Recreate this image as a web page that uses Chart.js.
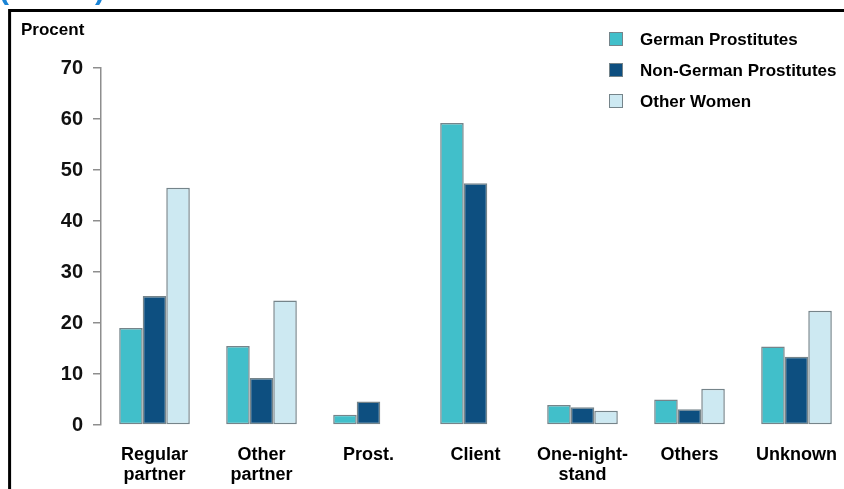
<!DOCTYPE html>
<html>
<head>
<meta charset="utf-8">
<script src="https://cdn.jsdelivr.net/npm/chart.js@4.4.1/dist/chart.umd.min.js"></script>
<style>
  html, body { margin: 0; padding: 0; background: #fff; overflow: hidden; }
  #wrap { position: relative; width: 860px; height: 489px; }
</style>
</head>
<body>
<div id="wrap"><canvas id="chart"></canvas></div>
<script>
// Source of infection by group, in percent
const categories = [["Regular", "partner"], ["Other", "partner"], "Prost.", "Client", ["One-night-", "stand"], "Others", "Unknown"];
const germanProstitutes = [19, 15.5, 2, 59.2, 3.9, 5, 15.4];
const nonGermanProstitutes = [25.3, 9.2, 4.6, 47.4, 3.5, 3.1, 13.4];
const otherWomen = [46.5, 24.4, null, null, 2.8, 7.1, 22.4];
const seriesNames = ["German Prostitutes", "Non-German Prostitutes", "Other Women"];
const yTicks = [0, 10, 20, 30, 40, 50, 60, 70];

const FONT = "'Liberation Sans', Arial, Helvetica, sans-serif";
const colors = ["#41bfca", "#0d4f80", "#cde9f2"];
const edge = "#75848a";

// Frame, headline sliver, axis caption and legend
const decorations = {
  id: "decorations",
  afterDraw(chart) {
    const ctx = chart.ctx;
    ctx.save();
    // outer frame
    ctx.strokeStyle = "#000";
    ctx.lineWidth = 3;
    ctx.strokeRect(9.6, 10.5, chart.width + 20, chart.height + 20);
    // headline, mostly above the visible area
    ctx.fillStyle = "#1a84d6";
    ctx.font = "bold 30px " + FONT;
    ctx.textBaseline = "alphabetic";
    ctx.textAlign = "left";
    ctx.fillText("(n=356)", -1, -1);
    // axis caption
    ctx.fillStyle = "#000";
    ctx.font = "bold 17px " + FONT;
    ctx.fillText("Procent", 21, 35);
    // legend
    const rows = [39, 70, 101];
    chart.data.datasets.forEach((ds, i) => {
      const cy = rows[i];
      ctx.fillStyle = ds.backgroundColor;
      ctx.fillRect(609, cy - 7, 14, 14);
      ctx.strokeStyle = edge;
      ctx.lineWidth = 1;
      ctx.strokeRect(609.5, cy - 6.5, 13, 13);
      ctx.fillStyle = "#000";
      ctx.font = "bold 17px " + FONT;
      ctx.textBaseline = "middle";
      ctx.fillText(ds.label, 640, cy + 1);
    });
    ctx.restore();
  }
};

const makeSet = (label, data, color) => ({
  label, data,
  backgroundColor: color,
  borderColor: edge,
  borderWidth: 1.5,
  borderSkipped: false,
  categoryPercentage: 0.66,
  barPercentage: 1.0
});

new Chart(document.getElementById("chart"), {
  type: "bar",
  data: {
    labels: categories,
    datasets: [
      makeSet(seriesNames[0], germanProstitutes, colors[0]),
      makeSet(seriesNames[1], nonGermanProstitutes, colors[1]),
      makeSet(seriesNames[2], otherWomen, colors[2])
    ]
  },
  options: {
    responsive: true,
    maintainAspectRatio: false,
    animation: false,
    layout: { padding: { top: 68, right: 10, bottom: 0, left: 0 } },
    plugins: { legend: { display: false }, tooltip: { enabled: false } },
    scales: {
      x: {
        offset: true,
        grid: { display: false, drawTicks: false },
        border: { display: false },
        ticks: {
          color: "#000",
          padding: 20,
          maxRotation: 0,
          autoSkip: false,
          font: { family: FONT, size: 18, weight: "bold", lineHeight: 1.1 }
        },
        afterFit(scale) { scale.height = 64; }
      },
      y: {
        min: 0,
        max: 70,
        afterBuildTicks(scale) { scale.ticks = yTicks.map(v => ({ value: v })); },
        grid: { drawOnChartArea: false, color: "#8e8e8e", lineWidth: 1.5, tickLength: 8 },
        border: { display: true, color: "#8e8e8e", width: 1.5 },
        ticks: {
          color: "#111",
          padding: 10,
          font: { family: FONT, size: 20, weight: "bold" }
        },
        afterFit(scale) { scale.width = 101; }
      }
    }
  },
  plugins: [decorations]
});
</script>
</body>
</html>
